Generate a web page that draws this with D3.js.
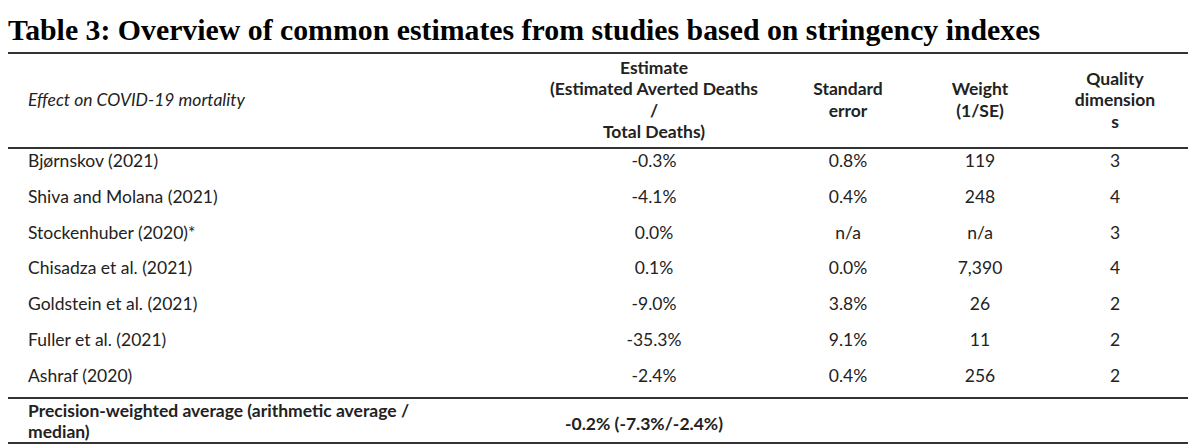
<!DOCTYPE html>
<html><head><meta charset="utf-8">
<script src="https://cdn.jsdelivr.net/npm/d3@7"></script>
<style>body{margin:0;background:#fff}</style>
</head><body><div id="chart"></div>
<script>
const title = "Table 3: Overview of common estimates from studies based on stringency indexes";
const studies = ["Bjørnskov (2021)", "Shiva and Molana (2021)", "Stockenhuber (2020)*", "Chisadza et al. (2021)", "Goldstein et al. (2021)", "Fuller et al. (2021)", "Ashraf (2020)"];
const estimates = ["-0.3%", "-4.1%", "0.0%", "0.1%", "-9.0%", "-35.3%", "-2.4%"];
const stdErrors = ["0.8%", "0.4%", "n/a", "0.0%", "3.8%", "9.1%", "0.4%"];
const weights = ["119", "248", "n/a", "7,390", "26", "11", "256"];
const quality = ["3", "4", "3", "4", "2", "2", "2"];
const headers = [["Effect on COVID-19 mortality"], ["Estimate", "(Estimated Averted Deaths", "/", "Total Deaths)"], ["Standard", "error"], ["Weight", "(1/SE)"], ["Quality", "dimension", "s"]];
const footer = ["Precision-weighted average (arithmetic average /", "median)"];
const footerValue = "-0.2% (-7.3%/-2.4%)";

const W = 1200, H = 448;
const svg = d3.select("#chart").append("svg").attr("width", W).attr("height", H);
const font = "Lato, 'Open Sans', sans-serif";
const fs = 17.5;
const colX = [28, 654, 848, 980, 1115];

svg.append("text").attr("x", 8).attr("y", 40).attr("font-family", "'Liberation Serif', 'Times New Roman', serif")
  .attr("font-weight", "bold").attr("font-size", 29.8).attr("fill", "#000").text(title);

const line = (y, w) => svg.append("line").attr("x1", 8).attr("x2", 1188).attr("y1", y).attr("y2", y)
  .attr("stroke", "#333").attr("stroke-width", w);
line(53, 2); line(148, 2); line(398, 2); line(443, 2);

// header
const hy = d3.scaleLinear().domain([0, 1]).range([0, 21.5]);
headers.forEach((lines, i) => {
  const n = lines.length, y0 = 101 - hy(n - 1) / 2 + (i === 0 ? 5 : 0);
  lines.forEach((t, j) => svg.append("text").attr("x", colX[i]).attr("y", y0 + hy(j) + (i === 0 ? 0 : 5))
    .attr("text-anchor", i === 0 ? "start" : "middle")
    .attr("font-family", font).attr("font-size", fs)
    .attr("font-weight", i === 0 ? "normal" : "bold").attr("font-style", i === 0 ? "italic" : "normal")
    .attr("fill", "#222").text(t));
});

// rows
const y = d3.scaleBand().domain(studies).range([148, 398]);
const cols = [studies, estimates, stdErrors, weights, quality];
studies.forEach((s, r) => {
  const cy = y(s) + y.bandwidth() / 2 - 3;
  cols.forEach((c, i) => svg.append("text").attr("x", colX[i]).attr("y", cy)
    .attr("dominant-baseline", "middle").attr("text-anchor", i === 0 ? "start" : "middle")
    .attr("font-family", font).attr("font-size", fs).attr("fill", "#222").text(c[r]));
});

// footer
footer.forEach((t, j) => svg.append("text").attr("x", colX[0]).attr("y", 417 + j * 21)
  .attr("font-family", font).attr("font-weight", "bold").attr("font-size", fs).attr("fill", "#222").text(t));
svg.append("text").attr("x", 644).attr("y", 430).attr("text-anchor", "middle")
  .attr("font-family", font).attr("font-weight", "bold").attr("font-size", fs).attr("fill", "#222").text(footerValue);
</script></body></html>
